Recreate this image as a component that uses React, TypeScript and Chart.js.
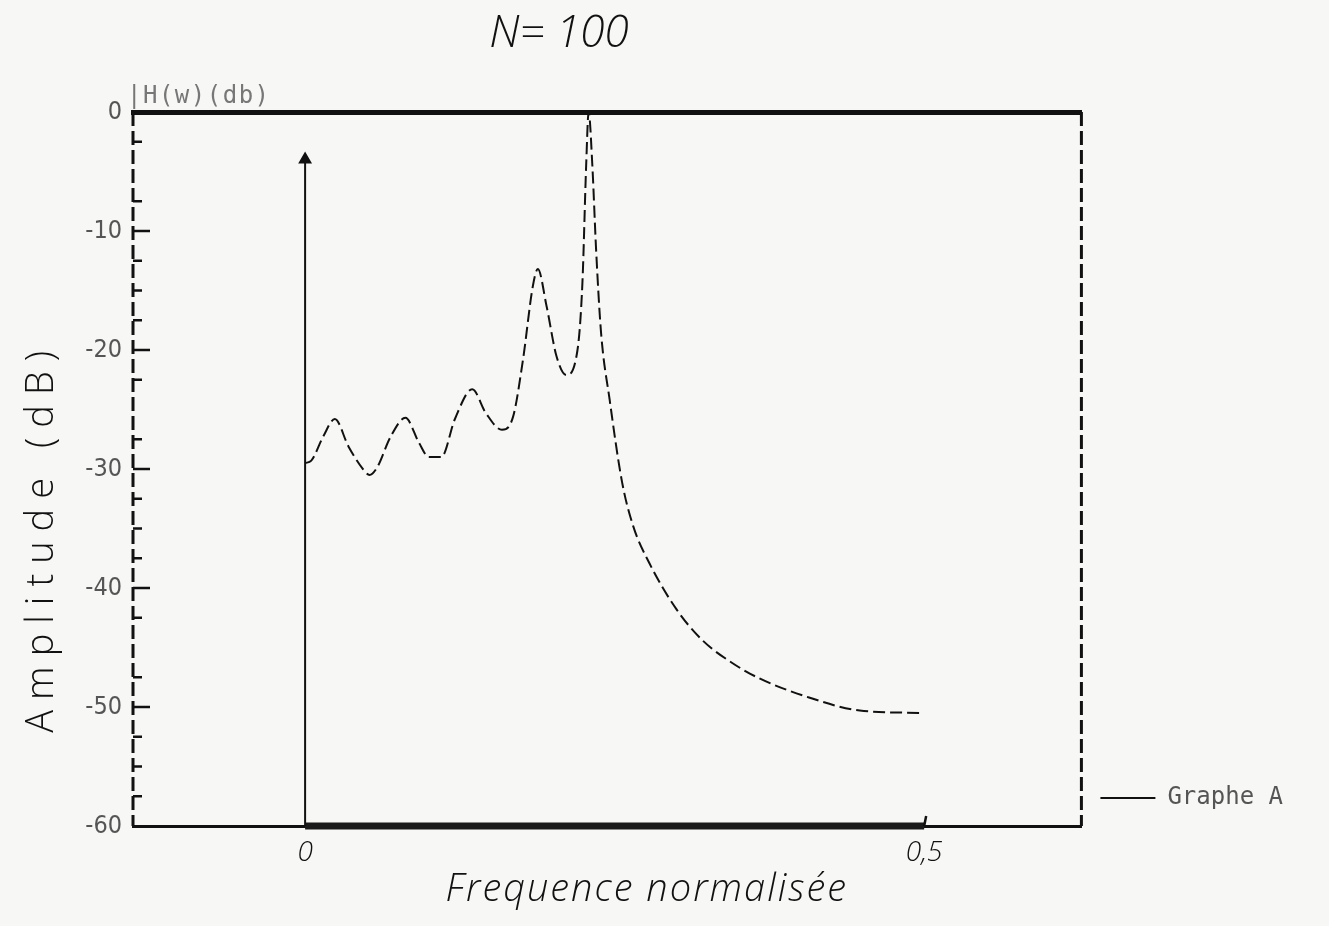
import { useEffect, useRef } from 'react';
import { Chart, registerables } from 'chart.js';

Chart.register(...registerables);

// ---- data ----
const freq = [
  0.0, 0.005, 0.0145, 0.024, 0.035, 0.046, 0.052, 0.058, 0.069, 0.081, 0.092,
  0.1, 0.11, 0.121, 0.135, 0.146, 0.159, 0.168, 0.176, 0.184, 0.188, 0.195,
  0.203, 0.211, 0.22, 0.224, 0.227, 0.229, 0.232, 0.235, 0.239, 0.246, 0.256,
  0.265, 0.278, 0.3, 0.321, 0.345, 0.367, 0.407, 0.448, 0.498,
];
const ampDb = [
  -29.5, -29.3, -27.3, -25.8, -28.1, -29.9, -30.5, -29.9, -27.3, -25.7, -27.8,
  -29.0, -29.0, -25.8, -23.3, -25.3, -26.7, -25.6, -20.8, -14.6, -13.2, -16.3,
  -20.5, -22.1, -20.0, -14.3, -4.5, 0.0, -4.5, -11.5, -18.5, -24.2, -31.1,
  -34.8, -37.9, -41.8, -44.4, -46.3, -47.6, -49.2, -50.3, -50.5,
];
const arrowFreq = [0, 0];
const arrowDb = [-60, -4];
const bandFreq = [0, 0.5];
const bandDb = [-60, -60];

const xRange = [-0.139, 0.627];
const yRange = [-60, 0];
const yTickValues = [0, -10, -20, -30, -40, -50, -60];
const yTickLabels = ['0', '-10', '-20', '-30', '-40', '-50', '-60'];
const yMinorTicks = [-2.5, -7.5, -12.5, -15, -17.5, -22.5, -27.5, -32.5, -35, -37.5, -42.5, -47.5, -52.5, -55, -57.5];
const xTickValues = [0, 0.5];
const xTickLabels = ['0', '0,5'];

const seriesLabel = 'Graphe A';
const titleText = 'N= 100';
const unitText = '|H(w)(db)';
const yTitleText = 'Amplitude (dB)';
const xTitleText = 'Frequence normalisée';

const NARROW = '"DejaVu Sans Condensed", "Liberation Sans Narrow", "DejaVu Sans", sans-serif';
const MONO = '"DejaVu Sans Mono", "Liberation Mono", monospace';
const HAND = '"Open Sans", "DejaVu Sans", sans-serif';

const annotatePlugin = {
  id: 'annotate',
  afterDraw(chart: any) {
    const { ctx, chartArea } = chart;
    const xs = chart.scales.x;
    const ys = chart.scales.y;
    ctx.save();
    // dashed left and right frame lines
    ctx.strokeStyle = '#111';
    ctx.lineWidth = 3;
    ctx.setLineDash([14, 5]);
    ctx.beginPath();
    ctx.moveTo(chartArea.left, chartArea.top);
    ctx.lineTo(chartArea.left, chartArea.bottom);
    ctx.moveTo(chartArea.right, chartArea.top);
    ctx.lineTo(chartArea.right, chartArea.bottom);
    ctx.stroke();
    ctx.setLineDash([]);

    // inner tick marks on the left axis
    ctx.lineWidth = 2.5;
    ctx.beginPath();
    yTickValues.forEach((v) => {
      if (v === 0 || v === -60) return;
      const py = ys.getPixelForValue(v);
      ctx.moveTo(chartArea.left, py);
      ctx.lineTo(chartArea.left + 17, py);
    });
    yMinorTicks.forEach((v) => {
      const py = ys.getPixelForValue(v);
      ctx.moveTo(chartArea.left, py);
      ctx.lineTo(chartArea.left + 9, py);
    });
    const p5 = xs.getPixelForValue(0.5);
    ctx.moveTo(p5, chartArea.bottom);
    ctx.lineTo(p5 + 2, chartArea.bottom - 10);
    ctx.stroke();

    // title
    ctx.fillStyle = '#111';
    ctx.font = `italic 300 44px ${HAND}`;
    ctx.textAlign = 'center';
    ctx.textBaseline = 'middle';
    ctx.fillText(titleText, xs.getPixelForValue(0.205), chartArea.top - 78);

    // unit label
    ctx.fillStyle = '#777';
    ctx.font = `24px ${MONO}`;
    ctx.textAlign = 'left';
    try { (ctx as any).letterSpacing = '1.5px'; } catch (e) {}
    ctx.fillText(unitText, chartArea.left - 6, chartArea.top - 15);
    try { (ctx as any).letterSpacing = '2px'; } catch (e) {}

    // x title
    ctx.fillStyle = '#111';
    ctx.font = `italic 300 38px ${HAND}`;
    ctx.textAlign = 'center';
    ctx.fillText(xTitleText, xs.getPixelForValue(0.276), chartArea.bottom + 64);

    // y title
    ctx.save();
    ctx.translate(34, ys.getPixelForValue(-35.7));
    ctx.rotate(-Math.PI / 2);
    ctx.font = `300 38px ${HAND}`;
    try { (ctx as any).letterSpacing = '10px'; } catch (e) {}
    ctx.textAlign = 'center';
    ctx.fillText(yTitleText, 0, 0);
    ctx.restore();
    try { (ctx as any).letterSpacing = '0px'; } catch (e) {}
    ctx.restore();
  },
};

export default function App() {
  const ref = useRef<HTMLCanvasElement | null>(null);
  useEffect(() => {
    document.body.style.background = '#f7f7f5';
    const canvas = ref.current;
    if (!canvas) return;
    const chart = new Chart(canvas, {
      type: 'line',
      data: {
        datasets: [
          {
            label: seriesLabel,
            data: freq.map((f, i) => ({ x: f, y: ampDb[i] })),
            borderColor: '#111',
            backgroundColor: '#111',
            borderWidth: 2,
            borderDash: [12, 5],
            pointRadius: 0,
            cubicInterpolationMode: 'monotone',
            clip: false,
          },
          {
            label: '',
            data: arrowFreq.map((f, i) => ({ x: f, y: arrowDb[i] })),
            borderColor: '#111',
            backgroundColor: '#111',
            borderWidth: 2,
            pointRadius: [0, 6],
            pointStyle: 'triangle',
            clip: false,
          },
          {
            label: '',
            data: bandFreq.map((f, i) => ({ x: f, y: bandDb[i] })),
            borderColor: '#1a1a1a',
            borderWidth: 7,
            pointRadius: 0,
            clip: false,
          },
        ],
      },
      options: {
        animation: false,
        responsive: true,
        maintainAspectRatio: false,
        layout: { padding: { top: 0, left: 0, right: 28, bottom: 0 } },
        plugins: {
          title: { display: false },
          tooltip: { enabled: false },
          legend: {
            display: true,
            position: 'right',
            align: 'end',
            fullSize: false,
            labels: {
              filter: (item: any) => item.text === seriesLabel,
              usePointStyle: true,
              pointStyle: 'line',
              pointStyleWidth: 55,
              color: '#555',
              font: { size: 24, family: MONO },
              padding: 16,
            },
          },
        },
        scales: {
          x: {
            type: 'linear',
            position: 'bottom',
            min: xRange[0],
            max: xRange[1],
            afterBuildTicks: (s: any) => { s.ticks = xTickValues.map((v) => ({ value: v })); },
            afterFit: (s: any) => { s.height = 92; },
            ticks: {
              callback: (v: any) => xTickLabels[xTickValues.indexOf(Number(v))] ?? '',
              color: '#111',
              font: { size: 28, family: HAND, style: 'italic', weight: 300 },
              padding: 10,
              maxRotation: 0,
              autoSkip: false,
            },
            grid: { display: false, drawTicks: false },
            border: { display: true, color: '#111', width: 3 },
          },
          xTop: {
            type: 'linear',
            position: 'top',
            min: xRange[0],
            max: xRange[1],
            afterFit: (s: any) => { s.height = 104; },
            ticks: { display: false },
            grid: { display: false, drawTicks: false },
            border: { display: true, color: '#111', width: 5 },
          },
          y: {
            type: 'linear',
            position: 'left',
            min: yRange[0],
            max: yRange[1],
            afterBuildTicks: (s: any) => { s.ticks = yTickValues.map((v) => ({ value: v })); },
            afterFit: (s: any) => { s.width = 125; },
            ticks: {
              callback: (v: any) => yTickLabels[yTickValues.indexOf(Number(v))] ?? '',
              color: '#555',
              font: { size: 25, family: NARROW },
              padding: 11,
              autoSkip: false,
            },
            grid: { display: false, drawTicks: false },
            border: { display: false },
          },
          yRight: {
            type: 'linear',
            position: 'right',
            min: yRange[0],
            max: yRange[1],
            afterFit: (s: any) => { s.width = 3; },
            ticks: { display: false },
            grid: { display: false, drawTicks: false },
            border: { display: false },
          },
        },
      },
      plugins: [annotatePlugin],
    } as any);
    return () => chart.destroy();
  }, []);
  return (
    <div style={{ position: 'relative', width: '100%', height: 910 }}>
      <canvas ref={ref} />
    </div>
  );
}
